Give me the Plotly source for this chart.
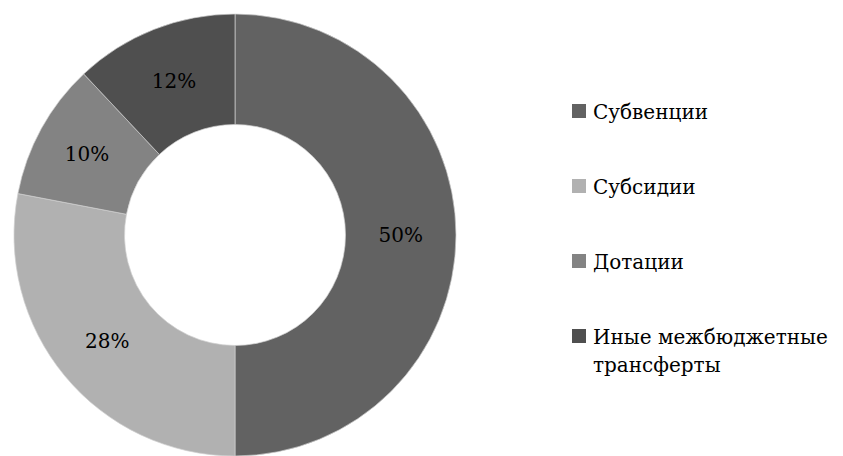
import plotly.graph_objects as go

categories = ["Субвенции", "Субсидии", "Дотации", "Иные межбюджетные трансферты"]
legend_lines = [["Субвенции"], ["Субсидии"], ["Дотации"], ["Иные межбюджетные", "трансферты"]]
values = [50, 28, 10, 12]
colors = ["#626262", "#b1b1b1", "#838383", "#4f4f4f"]

OFF = 8  # page body margin
W, H = 843 - OFF, 456 - OFF
FONT = "DejaVu Serif"


def px(x):
    return (x - OFF) / W


def py(y):
    return 1 - (y - OFF) / H


fig = go.Figure(go.Pie(
    labels=categories,
    values=values,
    hole=0.5,
    sort=False,
    direction="clockwise",
    rotation=0,
    marker=dict(colors=colors, line=dict(color="#d0d0d0", width=0.7)),
    texttemplate="%{percent:.0%}",
    textposition="inside",
    insidetextorientation="horizontal",
    textfont=dict(family=FONT, size=20, color="black"),
    domain=dict(x=[px(12), px(458)], y=[0, py(14)]),
    showlegend=False,
    hoverinfo="label+percent",
))

shapes = []
annotations = []
y0 = 111
step = 75
for i, (lines, col) in enumerate(zip(legend_lines, colors)):
    cy = y0 + i * step
    shapes.append(dict(type="rect", xref="paper", yref="paper",
                       x0=px(572), x1=px(586),
                       y0=py(cy + 7), y1=py(cy - 7),
                       fillcolor=col, line=dict(width=0)))
    for j, txt in enumerate(lines):
        annotations.append(dict(text=txt, xref="paper", yref="paper",
                                x=px(591), y=py(cy + 1 + j * 28),
                                xanchor="left", yanchor="middle", showarrow=False,
                                font=dict(family=FONT, size=20, color="black")))

fig.update_layout(
    width=W, height=H,
    margin=dict(l=0, r=0, t=0, b=0),
    paper_bgcolor="white", plot_bgcolor="white",
    font=dict(family=FONT),
    shapes=shapes, annotations=annotations,
)

fig.write_html("out.html")
